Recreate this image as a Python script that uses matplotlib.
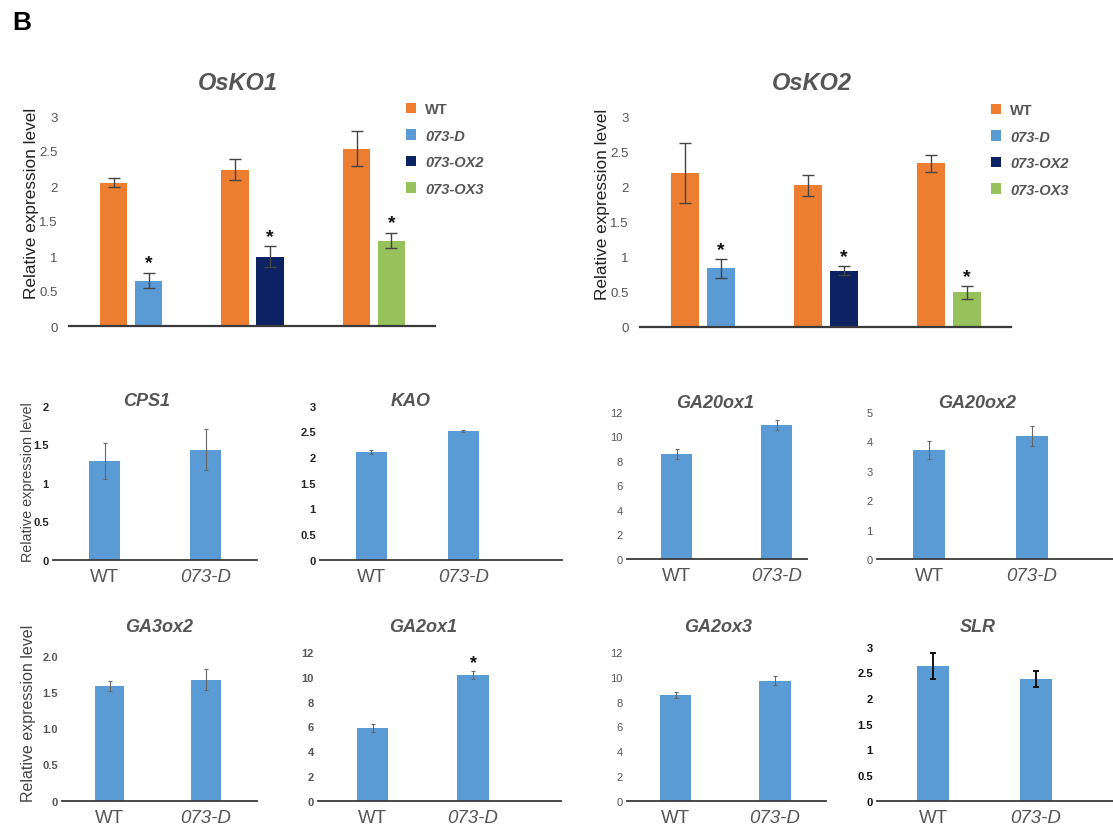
import numpy as np
import matplotlib
matplotlib.use("Agg")
import matplotlib.pyplot as plt

plt.rcParams['font.family'] = ['Liberation Sans', 'DejaVu Sans']

# ---- data ----
legend_labels = ['WT', '073-D', '073-OX2', '073-OX3']

osko1_wt = [2.05, 2.23, 2.53]
osko1_wt_err = [0.07, 0.15, 0.25]
osko1_mut = [0.65, 0.99, 1.22]
osko1_mut_err = [0.11, 0.15, 0.11]

osko2_wt = [2.19, 2.02, 2.33]
osko2_wt_err = [0.43, 0.15, 0.12]
osko2_mut = [0.83, 0.80, 0.49]
osko2_mut_err = [0.13, 0.06, 0.09]

genotypes = ['WT', '073-D']
small_genes = ['CPS1', 'KAO', 'GA20ox1', 'GA20ox2', 'GA3ox2', 'GA2ox1', 'GA2ox3', 'SLR']
small_vals = [[1.28, 1.43], [2.10, 2.51], [8.55, 10.94], [3.71, 4.18],
              [1.58, 1.67], [5.86, 10.17], [8.55, 9.71], [2.62, 2.37]]
small_errs = [[0.23, 0.27], [0.04, 0.015], [0.40, 0.40], [0.30, 0.34],
              [0.07, 0.14], [0.33, 0.35], [0.27, 0.35], [0.25, 0.16]]
small_ymax = [2, 3, 12, 5, 2, 12, 12, 3]
small_step = [0.5, 0.5, 2, 1, 0.5, 2, 2, 0.5]
small_star = [False, False, False, False, False, True, False, False]

# ---- styles / layout (pixels) ----
W, H = 1113, 829
ORANGE, BLUE, NAVY, GREEN = '#ED7D31', '#5B9BD5', '#0C2262', '#97C15A'
mut_colors = [BLUE, NAVY, GREEN]

fig = plt.figure(figsize=(W / 100, H / 100), dpi=100)


def px_axes(x0, x1, ybot, ytop):
    return fig.add_axes([x0 / W, 1 - ybot / H, (x1 - x0) / W, (ybot - ytop) / H])


def ftext(x, y, s, **kw):
    fig.text(x / W, 1 - y / H, s, **kw)


def style_axis(ax, ymax, step, tick_color, size, pad, lw):
    for side in ['top', 'right', 'left']:
        ax.spines[side].set_visible(False)
    ax.spines['bottom'].set_color('#3a3a3a')
    ax.spines['bottom'].set_linewidth(lw)
    ax.set_ylim(0, ymax)
    ticks = np.arange(0, ymax + step / 2, step)
    ax.set_yticks(ticks)
    ax.tick_params(axis='y', length=0, pad=pad, labelsize=size, labelcolor=tick_color)
    return ticks


# top panels
top_layout = [
    dict(box=(69, 435, 327, 117), c0=131, unit=121.5, bw=27.5, off=17.5,
         title_xy=(238, 83), ylab_xy=(32, 203), leg_xy=(406, 103)),
    dict(box=(640, 1011, 327.7, 117.3), c0=703, unit=123, bw=28, off=18,
         title_xy=(812, 83), ylab_xy=(603, 204.5), leg_xy=(991, 104)),
]
top_data = [
    ('OsKO1', osko1_wt, osko1_wt_err, osko1_mut, osko1_mut_err),
    ('OsKO2', osko2_wt, osko2_wt_err, osko2_mut, osko2_mut_err),
]

for lay, (name, wt, wte, mut, mute) in zip(top_layout, top_data):
    x0, x1, yb, yt = lay['box']
    ax = px_axes(x0, x1, yb, yt)
    u = lay['unit']
    ax.set_xlim((x0 - lay['c0']) / u, (x1 - lay['c0']) / u)
    x = np.arange(len(wt))
    bw, off = lay['bw'] / u, lay['off'] / u
    ekw = dict(ecolor='#444444', elinewidth=1.0, capsize=4, capthick=1.0)
    wt_bars = ax.bar(x - off, wt, bw, yerr=wte, color=ORANGE, error_kw=ekw)
    handles = [wt_bars]
    for i in range(len(mut)):
        b = ax.bar(x[i] + off, mut[i], bw, yerr=mute[i], color=mut_colors[i], error_kw=ekw)
        handles.append(b)
        ax.annotate('*', (x[i] + off, mut[i] + mute[i]), xytext=(0, 1),
                    textcoords='offset points', ha='center', va='bottom',
                    fontsize=14, fontweight='bold', color='#111111')
    style_axis(ax, 3, 0.5, '#555555', 9.5, 8, 1.6)
    ax.set_yticklabels(['%g' % t for t in np.arange(0, 3.25, 0.5)])
    ax.set_xticks([])
    ftext(*lay['title_xy'], name, ha='center', va='center', fontsize=17,
          fontweight='bold', fontstyle='italic', color='#555555')
    ftext(*lay['ylab_xy'], 'Relative expression level', rotation=90,
          ha='center', va='center', fontsize=12.4, color='#222222')
    lx, ly = lay['leg_xy']
    leg = ax.legend(handles, legend_labels, loc='upper left',
                    bbox_to_anchor=(lx / W, 1 - ly / H), bbox_transform=fig.transFigure,
                    frameon=False, handlelength=0.7, handleheight=0.7,
                    handletextpad=0.6, labelspacing=0.86, fontsize=10.5,
                    borderpad=0, borderaxespad=0)
    for k, t in enumerate(leg.get_texts()):
        t.set_color('#555555')
        t.set_fontweight('bold')
        if k > 0:
            t.set_fontstyle('italic')

# small panels
small_layout = [
    (53, 257, 560.7, 406.7, 104.5, 205.5, 31),
    (320, 562, 560.7, 406.7, 371, 463.3, 31),
    (627, 807, 560, 412.7, 676.5, 776.5, 31),
    (877, 1113, 560, 412.7, 929, 1032, 32),
    (62, 257, 801.7, 656.7, 109.5, 206, 29.5),
    (318, 561, 801.7, 653.3, 372.5, 473, 31.5),
    (627, 826, 801.7, 653.3, 675.5, 775, 31.5),
    (877, 1113, 801.7, 647.7, 933, 1036, 32),
]
small_title_xy = [(147, 402), (411, 402), (715, 404), (977, 404),
                  (159, 627), (423, 627), (718, 627), (978, 627)]
small_tick_style = [('#222222', True), ('#222222', True), ('#555555', False), ('#555555', False),
                    ('#555555', True), ('#555555', True), ('#555555', False), ('#111111', True)]

for k, gene in enumerate(small_genes):
    x0, x1, yb, yt, c0, c1, bwp = small_layout[k]
    ax = px_axes(x0, x1, yb, yt)
    u = c1 - c0
    ax.set_xlim((x0 - c0) / u, (x1 - c0) / u)
    if gene == 'SLR':
        ekw = dict(ecolor='#111111', elinewidth=1.4, capsize=2, capthick=1.4)
    else:
        ekw = dict(ecolor='#666666', elinewidth=0.8, capsize=1.5, capthick=0.8)
    xs = np.arange(2)
    ax.bar(xs, small_vals[k], bwp / u, yerr=small_errs[k], color=BLUE, error_kw=ekw)
    if small_star[k]:
        ax.annotate('*', (1, small_vals[k][1] + small_errs[k][1]), xytext=(0, 0),
                    textcoords='offset points', ha='center', va='bottom',
                    fontsize=13, fontweight='bold', color='#111111')
    col, bold = small_tick_style[k]
    ticks = style_axis(ax, small_ymax[k], small_step[k], col, 8, 3, 1.3)
    if gene == 'GA3ox2':
        ax.set_yticklabels(['0'] + ['%.1f' % t for t in ticks[1:]])
    else:
        ax.set_yticklabels(['%g' % t for t in ticks])
    for t in ax.get_yticklabels():
        t.set_fontweight('bold' if bold else 'normal')
    ax.set_xticks(xs)
    ax.set_xticklabels(genotypes, fontsize=13.5, color='#555555')
    ax.get_xticklabels()[1].set_fontstyle('italic')
    ax.tick_params(axis='x', length=0, pad=6)
    ftext(*small_title_xy[k], gene, ha='center', va='center', fontsize=13,
          fontweight='bold', fontstyle='italic', color='#555555')

ftext(28, 482, 'Relative expression level', rotation=90, ha='center', va='center',
      fontsize=10.4, color='#444444')
ftext(29, 713, 'Relative expression level', rotation=90, ha='center', va='center',
      fontsize=11.5, color='#444444')

ftext(12, 23, 'B', ha='left', va='center', fontsize=19, fontweight='bold', color='black')

fig.savefig('out.png', dpi=100)
